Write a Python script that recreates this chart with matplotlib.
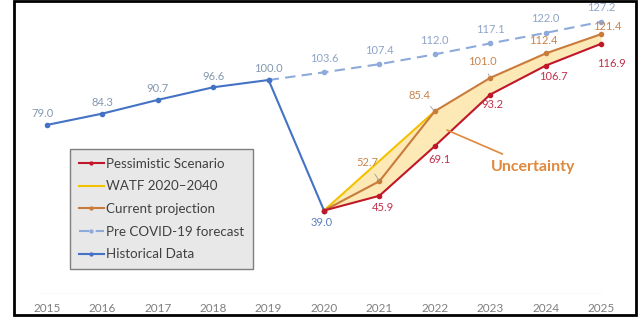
import matplotlib.pyplot as plt
from matplotlib.patches import Rectangle

plt.rcParams['font.family'] = ['Lato', 'DejaVu Sans']

# data
years_hist = [2015, 2016, 2017, 2018, 2019, 2020]
hist = [79.0, 84.3, 90.7, 96.6, 100.0, 39.0]

years_pre = [2019, 2020, 2021, 2022, 2023, 2024, 2025]
pre_covid = [100.0, 103.6, 107.4, 112.0, 117.1, 122.0, 127.2]

years_watf = [2020, 2021, 2022]
watf = [39.0, 62.2, 85.4]

years_proj = [2020, 2021, 2022, 2023, 2024, 2025]
current = [39.0, 52.7, 85.4, 101.0, 112.4, 121.4]
pessimistic = [39.0, 45.9, 69.1, 93.2, 106.7, 116.9]

all_years = list(range(2015, 2026))

c_hist = '#4472c4'
c_pre = '#8eaadb'
c_watf = '#f2c200'
c_cur = '#c97b3a'
c_pes = '#c0182a'
c_fill = '#fde9b6'

fig = plt.figure(figsize=(6.43, 3.22), dpi=100)
# axes placed so 2015 -> x=47px, 2025 -> x=601px, 0 -> y=294px
px_year = 55.4
px_unit = 2.14
x0 = 47 - 0.5 * px_year
w = 11 * px_year
ytop = 135
ax = fig.add_axes([x0 / 643, (322 - 294) / 322, w / 643, ytop * px_unit / 322])
ax.set_xlim(2014.5, 2025.5)
ax.set_ylim(0, ytop)
ax.axis('off')

# uncertainty band
upper = [max(current[i], watf[i]) if i < len(watf) else current[i] for i in range(len(current))]
ax.fill_between(years_proj, pessimistic, upper, color=c_fill, lw=0, zorder=1)

ax.plot([2014.9, 2025.0], [0, 0], color='#e3e3e3', lw=1, zorder=1)

ax.plot(years_pre, pre_covid, color=c_pre, lw=1.5, ls=(0, (5, 3)), marker='o', ms=3,
        label='Pre COVID-19 forecast', zorder=2)
ax.plot(years_hist, hist, color=c_hist, lw=1.5, marker='o', ms=3, label='Historical Data', zorder=3)
ax.plot(years_watf, watf, color=c_watf, lw=1.5, label='WATF 2020\u20132040', zorder=3)
ax.plot(years_proj, current, color=c_cur, lw=1.5, marker='o', ms=3, label='Current projection', zorder=4)
ax.plot(years_proj, pessimistic, color=c_pes, lw=1.5, marker='o', ms=3, label='Pessimistic Scenario', zorder=4)

fs = 8


def lab(x, y, txt, dx, dy, color, leader=False):
    # offsets given in pixels
    kw = dict(xy=(x, y), xytext=(dx * 0.72, dy * 0.72), textcoords='offset points',
              ha='center', va='center', fontsize=fs, color=color, zorder=6)
    if leader:
        kw['arrowprops'] = dict(arrowstyle='-', color='#a6a6a6', lw=0.7, shrinkA=3, shrinkB=1)
    ax.annotate(txt, **kw)


for i, (x, y) in enumerate(zip(years_hist[:-1], hist[:-1])):
    lab(x, y, f'{y:.1f}', -4 if i == 0 else 0, 11, '#8497b0')
lab(2020, 39.0, '39.0', -2, -12, '#5b7fbf')
for x, y in zip(years_pre[1:], pre_covid[1:]):
    lab(x, y, f'{y:.1f}', 0, 14, '#8ea4c8')

pes_off = [(4, -12), (5, -13), (2, -10), (8, -11), (10, -20)]
for (x, y), (dx, dy) in zip(zip(years_proj[1:], pessimistic[1:]), pes_off):
    lab(x, y, f'{y:.1f}', dx, dy, '#c0304a')

cur_off = [(-12, 19, True), (-15, 16, True), (-8, 16, True), (-2, 13, False), (6, 8, False)]
for (x, y), (dx, dy, ld) in zip(zip(years_proj[1:], current[1:]), cur_off):
    lab(x, y, f'{y:.1f}', dx, dy, '#c8844e', ld)

ax.annotate('Uncertainty', xy=(2022.22, 76.6), xytext=(2023.77, 59.3),
            ha='center', va='center', fontsize=11.5, fontweight='bold', color='#e0883c',
            arrowprops=dict(arrowstyle='-', color='#e0883c', lw=1.2, shrinkA=6, shrinkB=0),
            zorder=6)

for yr in all_years:
    ax.annotate(str(yr), xy=(yr, 0), xytext=(0, -14 * 0.72), textcoords='offset points',
                ha='center', va='center', fontsize=8.5, color='#7f7f7f')

handles, labels = ax.get_legend_handles_labels()
order = ['Pessimistic Scenario', 'WATF 2020\u20132040', 'Current projection',
         'Pre COVID-19 forecast', 'Historical Data']
hmap = dict(zip(labels, handles))
leg = ax.legend([hmap[k] for k in order], order, loc='upper left',
                bbox_to_anchor=((70 - x0) / w, (294 - 149) / (ytop * px_unit)),
                borderaxespad=0,
                fontsize=9.6, frameon=True, fancybox=False, handlelength=1.9,
                handletextpad=0.15, labelspacing=0.8, borderpad=0.65, markerscale=0.7)
leg.get_frame().set_facecolor('#e8e8e8')
leg.get_frame().set_edgecolor('#7f7f7f')
leg.get_frame().set_alpha(1)
for t in leg.get_texts():
    t.set_color('#404040')

fig.patches.append(Rectangle((14 / 643, 1 - 315 / 322), 622 / 643, 314 / 322,
                             transform=fig.transFigure, fill=False, ec='black', lw=2))

fig.savefig('out.png', dpi=100)
